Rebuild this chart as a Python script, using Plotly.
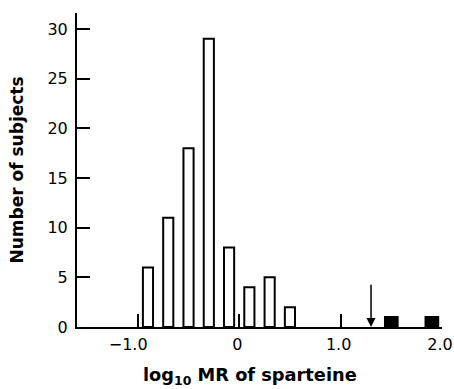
import plotly.graph_objects as go

# Data
em_centers = [-0.9, -0.7, -0.5, -0.3, -0.1, 0.1, 0.3, 0.5]
em_counts = [6, 11, 18, 29, 8, 4, 5, 2]
pm_centers = [1.5, 1.9]
pm_counts = [1, 1]
antimode_x = 1.3
arrow_top = 4.4
x_tickvals = [-1.0, 0.0, 1.0, 2.0]
NB = "\u00a0"
x_ticktext = ["\u22121.0" + NB * 3, "0", "1.0", "2.0"]
y_tickvals = [0, 5, 10, 15, 20, 25, 30]
x_title = "log<sub>10</sub> MR of sparteine"
y_title = "Number of subjects"

FONT = "DejaVu Sans"

fig = go.Figure()
fig.add_trace(go.Bar(
    x=em_centers, y=em_counts, width=0.1,
    marker=dict(color="white", line=dict(color="black", width=2)),
    showlegend=False,
))
fig.add_trace(go.Bar(
    x=pm_centers, y=pm_counts, width=0.125,
    marker=dict(color="black", line=dict(color="black", width=2)),
    showlegend=False,
))

fig.add_annotation(
    x=antimode_x, y=0, ax=antimode_x, ay=arrow_top,
    xref="x", yref="y", axref="x", ayref="y",
    text="", showarrow=True, arrowhead=2, arrowsize=1.2,
    arrowwidth=1.5, arrowcolor="black", standoff=0,
)

# x-axis title (placed slightly left of centre, as in the reference)
fig.add_annotation(
    text=x_title, xref="paper", yref="paper", x=0.474, y=0,
    xanchor="center", yanchor="middle", yshift=-49, showarrow=False,
    font=dict(family=FONT, size=17.8, weight="bold", color="black"),
)

fig.update_layout(
    width=454, height=389,
    margin=dict(l=77, r=12, t=13, b=62),
    paper_bgcolor="white", plot_bgcolor="white",
    barmode="overlay",
    font=dict(family=FONT, color="black", size=16),
    xaxis=dict(
        range=[-1.6, 2.0], showline=True, linecolor="black", linewidth=2,
        showgrid=False, zeroline=False,
        tickmode="array", tickvals=x_tickvals, ticktext=x_ticktext,
        ticks="inside", ticklen=13, tickwidth=2, tickcolor="black",
        tickfont=dict(family=FONT, size=16),
        ticklabelstandoff=2,
        ticklabelshift=-2,
        ticklabeloverflow="allow",
        automargin=False,
    ),
    yaxis=dict(
        range=[0, 31.6], showline=True, linecolor="black", linewidth=2,
        showgrid=False, zeroline=False,
        tickmode="array", tickvals=y_tickvals,
        ticks="inside", ticklen=13, tickwidth=2, tickcolor="black",
        tickfont=dict(family=FONT, size=16),
        ticklabelstandoff=4,
        automargin=False,
        title=dict(text=y_title,
                   font=dict(family=FONT, size=17, weight="bold"), standoff=19),
    ),
)

fig.write_html(
    "out.html",
    config={"displayModeBar": False},
    post_script=(
        "document.body.style.margin='0';"
        "document.body.style.overflow='hidden';"
        "document.documentElement.style.overflow='hidden';"
    ),
)
